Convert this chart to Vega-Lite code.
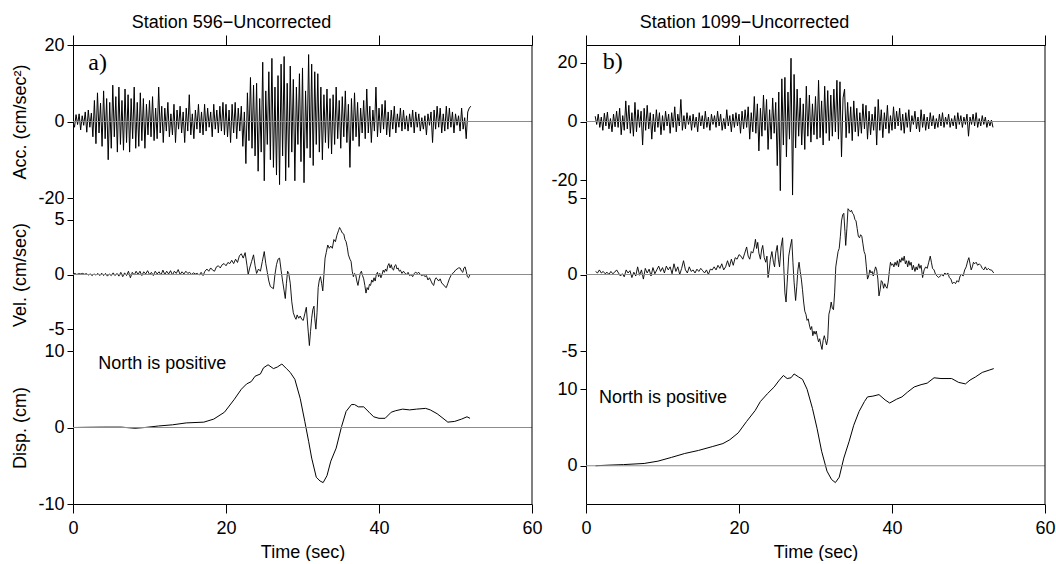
{
"$schema": "https://vega.github.io/schema/vega-lite/v6.json",
"padding": {"left": 11, "top": 13, "right": 0, "bottom": 0},
"background": "white",
"config": {
  "font": "Liberation Sans",
  "view": {"stroke": null},
  "axis": {"grid": false, "domainColor": "black", "tickColor": "black", "labelColor": "black", "titleColor": "black", "labelFont": "Liberation Sans", "titleFont": "Liberation Sans", "labelFontSize": 18, "titleFontSize": 18, "titleFontWeight": "normal", "tickSize": 6, "labelPadding": 3, "labelExpr": "replace(datum.label, '\u2212', '-')"}
},
"datasets": {
"acc596": [
{"t":0,"v":0},{"t":0.2,"v":-1.5},{"t":0.4,"v":1.8},{"t":0.6,"v":-0.8},{"t":0.8,"v":2.0},
{"t":1.0,"v":-2.2},{"t":1.2,"v":1.5},{"t":1.4,"v":-1.0},{"t":1.6,"v":2.5},{"t":1.8,"v":-2.8},
{"t":2.0,"v":3.0},{"t":2.2,"v":-1.5},{"t":2.4,"v":2.2},{"t":2.6,"v":-4.0},{"t":2.8,"v":5.5},
{"t":3.0,"v":-5.8},{"t":3.2,"v":7.5},{"t":3.4,"v":-3.0},{"t":3.6,"v":4.8},{"t":3.8,"v":-6.5},
{"t":4.0,"v":8.0},{"t":4.2,"v":-4.5},{"t":4.4,"v":6.0},{"t":4.6,"v":-10.0},{"t":4.8,"v":5.0},
{"t":5.0,"v":-7.0},{"t":5.2,"v":9.5},{"t":5.4,"v":-4.0},{"t":5.6,"v":6.5},{"t":5.8,"v":-8.0},
{"t":6.0,"v":9.0},{"t":6.2,"v":-6.0},{"t":6.4,"v":5.5},{"t":6.6,"v":-7.5},{"t":6.8,"v":8.5},
{"t":7.0,"v":-5.5},{"t":7.2,"v":7.0},{"t":7.4,"v":-8.0},{"t":7.6,"v":6.0},{"t":7.8,"v":-4.5},
{"t":8.0,"v":9.0},{"t":8.2,"v":-7.0},{"t":8.4,"v":5.0},{"t":8.6,"v":-6.5},{"t":8.8,"v":7.5},
{"t":9.0,"v":-5.0},{"t":9.2,"v":6.0},{"t":9.4,"v":-7.0},{"t":9.6,"v":4.5},{"t":9.8,"v":-3.5},
{"t":10.0,"v":5.5},{"t":10.2,"v":-4.0},{"t":10.4,"v":6.5},{"t":10.6,"v":-5.0},{"t":10.8,"v":3.5},
{"t":11.0,"v":-4.5},{"t":11.2,"v":9.0},{"t":11.4,"v":-3.0},{"t":11.6,"v":4.0},{"t":11.8,"v":-5.5},
{"t":12.0,"v":3.5},{"t":12.2,"v":-2.5},{"t":12.4,"v":5.0},{"t":12.6,"v":-4.0},{"t":12.8,"v":2.0},
{"t":13.0,"v":-3.5},{"t":13.2,"v":4.5},{"t":13.4,"v":-5.5},{"t":13.6,"v":3.0},{"t":13.8,"v":-2.0},
{"t":14.0,"v":4.0},{"t":14.2,"v":-3.0},{"t":14.4,"v":2.5},{"t":14.6,"v":-5.5},{"t":14.8,"v":3.5},
{"t":15.0,"v":-2.5},{"t":15.2,"v":7.0},{"t":15.4,"v":-3.5},{"t":15.6,"v":2.0},{"t":15.8,"v":-4.5},
{"t":16.0,"v":3.0},{"t":16.2,"v":-2.0},{"t":16.4,"v":4.5},{"t":16.6,"v":-3.0},{"t":16.8,"v":2.5},
{"t":17.0,"v":-3.5},{"t":17.2,"v":4.5},{"t":17.4,"v":-2.5},{"t":17.6,"v":3.5},{"t":17.8,"v":-1.5},
{"t":18.0,"v":2.5},{"t":18.2,"v":-4.0},{"t":18.4,"v":4.5},{"t":18.6,"v":-2.0},{"t":18.8,"v":3.0},
{"t":19.0,"v":-3.0},{"t":19.2,"v":4.0},{"t":19.4,"v":-2.5},{"t":19.6,"v":5.0},{"t":19.8,"v":-3.5},
{"t":20.0,"v":4.5},{"t":20.2,"v":-4.0},{"t":20.4,"v":3.0},{"t":20.6,"v":-5.5},{"t":20.8,"v":4.5},
{"t":21.0,"v":-3.0},{"t":21.2,"v":5.0},{"t":21.4,"v":-4.5},{"t":21.6,"v":3.5},{"t":21.8,"v":-2.5},
{"t":22.0,"v":4.0},{"t":22.2,"v":-6.5},{"t":22.4,"v":2.5},{"t":22.6,"v":-11.0},{"t":22.8,"v":7.5},
{"t":23.0,"v":-5.0},{"t":23.2,"v":11.5},{"t":23.4,"v":-7.0},{"t":23.6,"v":9.5},{"t":23.8,"v":-9.0},
{"t":24.0,"v":10.0},{"t":24.2,"v":-13.0},{"t":24.4,"v":6.0},{"t":24.6,"v":-8.0},{"t":24.8,"v":15.5},
{"t":25.0,"v":-15.5},{"t":25.2,"v":8.0},{"t":25.4,"v":-6.0},{"t":25.6,"v":13.0},{"t":25.8,"v":-10.0},
{"t":26.0,"v":16.5},{"t":26.2,"v":-12.0},{"t":26.4,"v":9.0},{"t":26.6,"v":-14.0},{"t":26.8,"v":12.0},
{"t":27.0,"v":-16.5},{"t":27.2,"v":15.0},{"t":27.4,"v":-9.0},{"t":27.6,"v":17.0},{"t":27.8,"v":-15.5},
{"t":28.0,"v":10.0},{"t":28.2,"v":-12.0},{"t":28.4,"v":14.5},{"t":28.6,"v":-8.0},{"t":28.8,"v":11.0},
{"t":29.0,"v":-15.5},{"t":29.2,"v":9.0},{"t":29.4,"v":-6.0},{"t":29.6,"v":12.5},{"t":29.8,"v":-10.5},
{"t":30.0,"v":14.0},{"t":30.2,"v":-16.0},{"t":30.4,"v":8.0},{"t":30.6,"v":-7.0},{"t":30.8,"v":17.5},
{"t":31.0,"v":-9.5},{"t":31.2,"v":15.0},{"t":31.4,"v":-11.5},{"t":31.6,"v":13.0},{"t":31.8,"v":-6.0},
{"t":32.0,"v":12.5},{"t":32.2,"v":-8.0},{"t":32.4,"v":9.0},{"t":32.6,"v":-10.0},{"t":32.8,"v":7.0},
{"t":33.0,"v":-5.5},{"t":33.2,"v":8.5},{"t":33.4,"v":-7.0},{"t":33.6,"v":6.0},{"t":33.8,"v":-8.5},
{"t":34.0,"v":7.0},{"t":34.2,"v":-6.0},{"t":34.4,"v":9.0},{"t":34.6,"v":-4.5},{"t":34.8,"v":5.5},
{"t":35.0,"v":-7.0},{"t":35.2,"v":6.5},{"t":35.4,"v":-4.0},{"t":35.6,"v":8.0},{"t":35.8,"v":-5.5},
{"t":36.0,"v":4.5},{"t":36.2,"v":-12.0},{"t":36.4,"v":6.0},{"t":36.6,"v":-5.0},{"t":36.8,"v":7.5},
{"t":37.0,"v":-4.0},{"t":37.2,"v":5.0},{"t":37.4,"v":-6.5},{"t":37.6,"v":3.5},{"t":37.8,"v":-3.0},
{"t":38.0,"v":5.5},{"t":38.2,"v":-4.5},{"t":38.4,"v":8.5},{"t":38.6,"v":-3.0},{"t":38.8,"v":4.0},
{"t":39.0,"v":-5.5},{"t":39.2,"v":3.0},{"t":39.4,"v":-2.5},{"t":39.6,"v":9.0},{"t":39.8,"v":-4.0},
{"t":40.0,"v":3.5},{"t":40.2,"v":-3.0},{"t":40.4,"v":4.5},{"t":40.6,"v":-2.0},{"t":40.8,"v":5.5},
{"t":41.0,"v":-3.5},{"t":41.2,"v":2.5},{"t":41.4,"v":-4.0},{"t":41.6,"v":3.0},{"t":41.8,"v":-2.0},
{"t":42.0,"v":4.0},{"t":42.2,"v":-3.0},{"t":42.4,"v":2.0},{"t":42.6,"v":-1.5},{"t":42.8,"v":3.5},
{"t":43.0,"v":-2.5},{"t":43.2,"v":3.0},{"t":43.4,"v":-2.0},{"t":43.6,"v":1.5},{"t":43.8,"v":-2.5},
{"t":44.0,"v":2.0},{"t":44.2,"v":-1.5},{"t":44.4,"v":3.0},{"t":44.6,"v":-3.0},{"t":44.8,"v":2.5},
{"t":45.0,"v":-1.5},{"t":45.2,"v":2.0},{"t":45.4,"v":-2.5},{"t":45.6,"v":1.0},{"t":45.8,"v":-2.0},
{"t":46.0,"v":1.5},{"t":46.2,"v":-3.5},{"t":46.4,"v":2.0},{"t":46.6,"v":-1.0},{"t":46.8,"v":2.5},
{"t":47.0,"v":-5.5},{"t":47.2,"v":3.0},{"t":47.4,"v":-2.0},{"t":47.6,"v":4.0},{"t":47.8,"v":-1.5},
{"t":48.0,"v":3.5},{"t":48.2,"v":-3.0},{"t":48.4,"v":2.0},{"t":48.6,"v":-2.5},{"t":48.8,"v":4.0},
{"t":49.0,"v":-2.0},{"t":49.2,"v":3.5},{"t":49.4,"v":-1.5},{"t":49.6,"v":2.5},{"t":49.8,"v":-3.0},
{"t":50.0,"v":2.0},{"t":50.2,"v":-1.0},{"t":50.4,"v":1.5},{"t":50.6,"v":-2.5},{"t":50.8,"v":3.5},
{"t":51.0,"v":-2.0},{"t":51.2,"v":1.0},{"t":51.4,"v":-4.5},{"t":51.6,"v":2.5},{"t":51.8,"v":3.5},
{"t":52.0,"v":4.0}
],
"acc1099": [
{"t":1.2,"v":1.8},{"t":1.4,"v":-1.0},{"t":1.6,"v":2.5},{"t":1.8,"v":-2.0},
{"t":2.0,"v":1.5},{"t":2.2,"v":-3.0},{"t":2.4,"v":2.8},{"t":2.6,"v":-1.5},{"t":2.8,"v":3.2},
{"t":3.0,"v":-2.5},{"t":3.2,"v":1.0},{"t":3.4,"v":-3.5},{"t":3.6,"v":2.5},{"t":3.8,"v":-1.8},
{"t":4.0,"v":3.5},{"t":4.2,"v":-2.0},{"t":4.4,"v":4.5},{"t":4.6,"v":-4.5},{"t":4.8,"v":2.0},
{"t":5.0,"v":-3.0},{"t":5.2,"v":7.0},{"t":5.4,"v":-2.5},{"t":5.6,"v":5.5},{"t":5.8,"v":-4.0},
{"t":6.0,"v":3.0},{"t":6.2,"v":-5.0},{"t":6.4,"v":6.5},{"t":6.6,"v":-3.5},{"t":6.8,"v":4.0},
{"t":7.0,"v":-2.0},{"t":7.2,"v":3.5},{"t":7.4,"v":-8.0},{"t":7.6,"v":4.5},{"t":7.8,"v":-3.0},
{"t":8.0,"v":5.5},{"t":8.2,"v":-2.5},{"t":8.4,"v":3.0},{"t":8.6,"v":-6.0},{"t":8.8,"v":2.5},
{"t":9.0,"v":-3.5},{"t":9.2,"v":4.0},{"t":9.4,"v":-2.0},{"t":9.6,"v":3.0},{"t":9.8,"v":-4.5},
{"t":10.0,"v":2.0},{"t":10.2,"v":-3.0},{"t":10.4,"v":3.5},{"t":10.6,"v":-1.5},{"t":10.8,"v":2.5},
{"t":11.0,"v":-4.0},{"t":11.2,"v":3.0},{"t":11.4,"v":-2.0},{"t":11.6,"v":5.0},{"t":11.8,"v":-3.5},
{"t":12.0,"v":2.5},{"t":12.2,"v":-1.5},{"t":12.4,"v":7.5},{"t":12.6,"v":-3.0},{"t":12.8,"v":2.0},
{"t":13.0,"v":-2.5},{"t":13.2,"v":3.0},{"t":13.4,"v":-1.0},{"t":13.6,"v":2.0},{"t":13.8,"v":-3.0},
{"t":14.0,"v":2.5},{"t":14.2,"v":-2.0},{"t":14.4,"v":1.5},{"t":14.6,"v":-3.5},{"t":14.8,"v":3.0},
{"t":15.0,"v":-1.5},{"t":15.2,"v":2.0},{"t":15.4,"v":-2.5},{"t":15.6,"v":3.5},{"t":15.8,"v":-2.0},
{"t":16.0,"v":1.5},{"t":16.2,"v":-3.0},{"t":16.4,"v":2.5},{"t":16.6,"v":-1.0},{"t":16.8,"v":2.0},
{"t":17.0,"v":-2.0},{"t":17.2,"v":3.5},{"t":17.4,"v":-1.5},{"t":17.6,"v":2.5},{"t":17.8,"v":-3.0},
{"t":18.0,"v":1.0},{"t":18.2,"v":-2.5},{"t":18.4,"v":4.0},{"t":18.6,"v":-1.5},{"t":18.8,"v":2.0},
{"t":19.0,"v":-3.5},{"t":19.2,"v":2.5},{"t":19.4,"v":-2.0},{"t":19.6,"v":3.0},{"t":19.8,"v":-1.5},
{"t":20.0,"v":2.5},{"t":20.2,"v":-4.0},{"t":20.4,"v":3.5},{"t":20.6,"v":-2.5},{"t":20.8,"v":4.0},
{"t":21.0,"v":-2.0},{"t":21.2,"v":5.0},{"t":21.4,"v":-6.0},{"t":21.6,"v":3.0},{"t":21.8,"v":-3.5},
{"t":22.0,"v":8.5},{"t":22.2,"v":-4.0},{"t":22.4,"v":6.0},{"t":22.6,"v":-10.0},{"t":22.8,"v":4.5},
{"t":23.0,"v":-5.0},{"t":23.2,"v":9.0},{"t":23.4,"v":-3.0},{"t":23.6,"v":7.5},{"t":23.8,"v":-9.5},
{"t":24.0,"v":4.0},{"t":24.2,"v":-6.0},{"t":24.4,"v":8.0},{"t":24.6,"v":-4.0},{"t":24.8,"v":6.5},
{"t":25.0,"v":-15.0},{"t":25.2,"v":10.0},{"t":25.4,"v":-23.5},{"t":25.6,"v":14.5},{"t":25.8,"v":-8.0},
{"t":26.0,"v":15.0},{"t":26.2,"v":-12.0},{"t":26.4,"v":10.0},{"t":26.6,"v":-6.0},{"t":26.8,"v":21.5},
{"t":27.0,"v":-25.0},{"t":27.2,"v":16.0},{"t":27.4,"v":-9.0},{"t":27.6,"v":11.0},{"t":27.8,"v":-5.0},
{"t":28.0,"v":8.0},{"t":28.2,"v":-8.0},{"t":28.4,"v":6.0},{"t":28.6,"v":-9.5},{"t":28.8,"v":12.0},
{"t":29.0,"v":-5.0},{"t":29.2,"v":9.0},{"t":29.4,"v":-7.0},{"t":29.6,"v":6.0},{"t":29.8,"v":-4.5},
{"t":30.0,"v":8.5},{"t":30.2,"v":-6.0},{"t":30.4,"v":14.0},{"t":30.6,"v":-5.5},{"t":30.8,"v":7.0},
{"t":31.0,"v":-8.0},{"t":31.2,"v":12.0},{"t":31.4,"v":-4.0},{"t":31.6,"v":10.5},{"t":31.8,"v":-6.5},
{"t":32.0,"v":9.0},{"t":32.2,"v":-5.0},{"t":32.4,"v":11.0},{"t":32.6,"v":-3.5},{"t":32.8,"v":14.0},
{"t":33.0,"v":-6.0},{"t":33.2,"v":13.5},{"t":33.4,"v":-12.0},{"t":33.6,"v":8.0},{"t":33.8,"v":11.0},
{"t":34.0,"v":-5.5},{"t":34.2,"v":6.5},{"t":34.4,"v":-4.0},{"t":34.6,"v":5.0},{"t":34.8,"v":-6.5},
{"t":35.0,"v":7.0},{"t":35.2,"v":-3.5},{"t":35.4,"v":4.5},{"t":35.6,"v":-5.0},{"t":35.8,"v":3.0},
{"t":36.0,"v":-4.0},{"t":36.2,"v":6.0},{"t":36.4,"v":-2.5},{"t":36.6,"v":5.5},{"t":36.8,"v":-6.0},
{"t":37.0,"v":3.5},{"t":37.2,"v":-4.5},{"t":37.4,"v":2.5},{"t":37.6,"v":-3.0},{"t":37.8,"v":5.0},
{"t":38.0,"v":-8.0},{"t":38.2,"v":7.5},{"t":38.4,"v":-3.0},{"t":38.6,"v":4.0},{"t":38.8,"v":-5.5},
{"t":39.0,"v":3.0},{"t":39.2,"v":-2.5},{"t":39.4,"v":5.5},{"t":39.6,"v":-4.0},{"t":39.8,"v":2.0},
{"t":40.0,"v":-3.0},{"t":40.2,"v":5.0},{"t":40.4,"v":-2.5},{"t":40.6,"v":3.5},{"t":40.8,"v":-1.5},
{"t":41.0,"v":4.5},{"t":41.2,"v":-3.0},{"t":41.4,"v":2.5},{"t":41.6,"v":-4.0},{"t":41.8,"v":3.0},
{"t":42.0,"v":-2.0},{"t":42.2,"v":4.0},{"t":42.4,"v":-3.5},{"t":42.6,"v":2.0},{"t":42.8,"v":-1.0},
{"t":43.0,"v":3.5},{"t":43.2,"v":-2.5},{"t":43.4,"v":1.5},{"t":43.6,"v":-3.5},{"t":43.8,"v":4.0},
{"t":44.0,"v":-2.0},{"t":44.2,"v":2.5},{"t":44.4,"v":-3.0},{"t":44.6,"v":1.5},{"t":44.8,"v":-2.5},
{"t":45.0,"v":3.0},{"t":45.2,"v":-1.5},{"t":45.4,"v":2.0},{"t":45.6,"v":-2.5},{"t":45.8,"v":1.0},
{"t":46.0,"v":-2.0},{"t":46.2,"v":2.5},{"t":46.4,"v":-1.5},{"t":46.6,"v":3.0},{"t":46.8,"v":-2.0},
{"t":47.0,"v":1.5},{"t":47.2,"v":-1.0},{"t":47.4,"v":2.5},{"t":47.6,"v":-2.0},{"t":47.8,"v":1.0},
{"t":48.0,"v":-1.5},{"t":48.2,"v":2.0},{"t":48.4,"v":-2.5},{"t":48.6,"v":3.0},{"t":48.8,"v":-1.0},
{"t":49.0,"v":2.0},{"t":49.2,"v":-2.0},{"t":49.4,"v":1.5},{"t":49.6,"v":-1.0},{"t":49.8,"v":2.5},
{"t":50.0,"v":-5.0},{"t":50.2,"v":1.5},{"t":50.4,"v":-1.0},{"t":50.6,"v":2.5},{"t":50.8,"v":-1.5},
{"t":51.0,"v":3.0},{"t":51.2,"v":-2.0},{"t":51.4,"v":1.0},{"t":51.6,"v":-1.5},{"t":51.8,"v":2.0},
{"t":52.0,"v":-1.0},{"t":52.2,"v":1.5},{"t":52.4,"v":-2.0},{"t":52.6,"v":0.5},{"t":52.8,"v":-1.5},
{"t":53.0,"v":0.5},{"t":53.2,"v":-2.0}
],
"vel596": [
{"t":0,"v":0.05},{"t":0.25,"v":0.1},{"t":0.5,"v":0.0},{"t":0.75,"v":0.08},{"t":1.0,"v":0.05},{"t":1.25,"v":0.1},{"t":1.5,"v":0.02},{"t":1.75,"v":0.08},
{"t":2.0,"v":-0.05},{"t":2.25,"v":0.05},{"t":2.5,"v":-0.1},{"t":2.75,"v":0.05},{"t":3.0,"v":-0.05},{"t":3.25,"v":0.1},{"t":3.5,"v":-0.1},{"t":3.75,"v":0.12},
{"t":4.0,"v":-0.1},{"t":4.25,"v":0.1},{"t":4.5,"v":-0.15},{"t":4.75,"v":0.05},{"t":5.0,"v":-0.1},{"t":5.25,"v":0.15},{"t":5.5,"v":-0.1},{"t":5.75,"v":0.1},
{"t":6.0,"v":-0.15},{"t":6.25,"v":0.2},{"t":6.5,"v":-0.2},{"t":6.75,"v":0.15},{"t":7.0,"v":-0.1},{"t":7.25,"v":0.3},{"t":7.5,"v":-0.3},{"t":7.75,"v":0.2},
{"t":8.0,"v":-0.05},{"t":8.25,"v":0.3},{"t":8.5,"v":0.0},{"t":8.75,"v":0.3},{"t":9.0,"v":-0.1},{"t":9.25,"v":0.25},{"t":9.5,"v":0.05},{"t":9.75,"v":0.35},
{"t":10.0,"v":0.0},{"t":10.25,"v":0.2},{"t":10.5,"v":-0.1},{"t":10.75,"v":0.3},{"t":11.0,"v":0.05},{"t":11.25,"v":0.25},{"t":11.5,"v":-0.05},{"t":11.75,"v":0.4},
{"t":12.0,"v":0.0},{"t":12.25,"v":0.3},{"t":12.5,"v":0.05},{"t":12.75,"v":0.35},{"t":13.0,"v":-0.05},{"t":13.25,"v":0.3},{"t":13.5,"v":0.1},{"t":13.75,"v":0.45},
{"t":14.0,"v":0.0},{"t":14.25,"v":0.25},{"t":14.5,"v":0.05},{"t":14.75,"v":0.3},{"t":15.0,"v":0.1},{"t":15.25,"v":0.2},{"t":15.5,"v":0.0},{"t":15.75,"v":0.15},
{"t":16.0,"v":0.05},{"t":16.25,"v":0.1},{"t":16.5,"v":-0.05},{"t":16.75,"v":0.2},{"t":17.0,"v":-0.1},{"t":17.25,"v":0.3},{"t":17.5,"v":0.5},{"t":17.75,"v":0.3},
{"t":18.0,"v":0.6},{"t":18.25,"v":0.4},{"t":18.5,"v":0.3},{"t":18.75,"v":0.7},{"t":19.0,"v":0.8},{"t":19.25,"v":0.6},{"t":19.5,"v":0.9},{"t":19.75,"v":1.0},
{"t":20.0,"v":0.8},{"t":20.25,"v":1.1},{"t":20.5,"v":1.0},{"t":20.75,"v":1.3},{"t":21.0,"v":1.0},{"t":21.25,"v":1.4},{"t":21.5,"v":1.1},{"t":21.75,"v":1.7},
{"t":22.0,"v":1.9},{"t":22.25,"v":1.5},{"t":22.5,"v":2.0},{"t":22.75,"v":0.8},{"t":22.9,"v":0.0},{"t":23.1,"v":0.6},{"t":23.35,"v":1.2},{"t":23.6,"v":1.8},
{"t":23.8,"v":0.8},{"t":24.0,"v":0.1},{"t":24.25,"v":0.5},{"t":24.5,"v":0.3},{"t":24.75,"v":1.2},{"t":25.0,"v":2.1},{"t":25.2,"v":1.0},{"t":25.4,"v":0.2},
{"t":25.6,"v":-0.6},{"t":25.8,"v":-1.1},{"t":26.0,"v":-1.2},{"t":26.2,"v":-1.3},{"t":26.4,"v":0.0},{"t":26.6,"v":0.9},{"t":26.8,"v":1.4},{"t":27.0,"v":1.5},
{"t":27.2,"v":0.4},{"t":27.4,"v":-0.6},{"t":27.6,"v":-1.5},{"t":27.75,"v":-2.2},{"t":27.9,"v":-0.8},{"t":28.05,"v":0.3},{"t":28.2,"v":0.1},{"t":28.4,"v":-0.8},
{"t":28.6,"v":-2.5},{"t":28.8,"v":-3.5},{"t":29.0,"v":-3.9},{"t":29.15,"v":-4.1},{"t":29.3,"v":-3.7},{"t":29.5,"v":-4.0},{"t":29.7,"v":-3.8},{"t":29.9,"v":-4.1},
{"t":30.1,"v":-4.2},{"t":30.3,"v":-3.6},{"t":30.5,"v":-3.0},{"t":30.7,"v":-4.8},{"t":30.9,"v":-6.5},{"t":31.05,"v":-5.2},{"t":31.2,"v":-4.0},{"t":31.35,"v":-3.2},
{"t":31.5,"v":-2.9},{"t":31.6,"v":-4.0},{"t":31.75,"v":-5.0},{"t":31.9,"v":-3.5},{"t":32.05,"v":-1.2},{"t":32.2,"v":-0.5},{"t":32.35,"v":-0.2},{"t":32.5,"v":-0.8},
{"t":32.65,"v":-1.5},{"t":32.8,"v":0.0},{"t":32.95,"v":1.5},{"t":33.1,"v":2.0},{"t":33.3,"v":2.7},{"t":33.5,"v":2.4},{"t":33.7,"v":2.6},{"t":33.9,"v":2.4},
{"t":34.1,"v":3.2},{"t":34.3,"v":3.0},{"t":34.5,"v":3.6},{"t":34.7,"v":4.0},{"t":34.85,"v":4.3},{"t":35.0,"v":4.1},{"t":35.2,"v":3.8},{"t":35.4,"v":3.7},
{"t":35.55,"v":3.2},{"t":35.7,"v":3.0},{"t":35.85,"v":2.5},{"t":36.0,"v":1.8},{"t":36.2,"v":1.4},{"t":36.35,"v":1.2},{"t":36.5,"v":0.3},{"t":36.65,"v":-0.2},
{"t":36.8,"v":0.1},{"t":36.95,"v":0.0},{"t":37.1,"v":-0.6},{"t":37.25,"v":-1.0},{"t":37.4,"v":-0.4},{"t":37.55,"v":0.1},{"t":37.7,"v":0.3},{"t":37.85,"v":-0.1},
{"t":38.0,"v":-0.4},{"t":38.15,"v":-1.0},{"t":38.3,"v":-1.7},{"t":38.45,"v":-1.2},{"t":38.6,"v":-1.4},{"t":38.75,"v":-0.9},{"t":38.9,"v":-1.0},{"t":39.05,"v":-0.5},
{"t":39.2,"v":-0.7},{"t":39.35,"v":-0.3},{"t":39.5,"v":-0.6},{"t":39.65,"v":0.0},{"t":39.8,"v":0.2},{"t":39.95,"v":-0.2},{"t":40.1,"v":0.1},{"t":40.25,"v":-0.3},
{"t":40.4,"v":0.0},{"t":40.55,"v":0.4},{"t":40.7,"v":0.2},{"t":40.85,"v":0.5},{"t":41.0,"v":0.3},{"t":41.15,"v":0.8},{"t":41.3,"v":1.0},{"t":41.45,"v":0.6},
{"t":41.6,"v":0.9},{"t":41.75,"v":0.5},{"t":41.9,"v":0.4},{"t":42.05,"v":0.8},{"t":42.2,"v":0.9},{"t":42.35,"v":0.5},{"t":42.5,"v":0.6},{"t":42.65,"v":0.3},
{"t":42.8,"v":0.4},{"t":43.0,"v":0.1},{"t":43.2,"v":0.3},{"t":43.4,"v":0.1},{"t":43.6,"v":0.0},{"t":43.8,"v":0.2},{"t":44.0,"v":-0.1},{"t":44.2,"v":0.0},
{"t":44.4,"v":-0.2},{"t":44.6,"v":0.1},{"t":44.8,"v":0.2},{"t":45.0,"v":0.1},{"t":45.2,"v":0.2},{"t":45.4,"v":0.0},{"t":45.6,"v":-0.1},{"t":45.8,"v":0.0},
{"t":46.0,"v":-0.2},{"t":46.2,"v":-0.1},{"t":46.4,"v":-0.5},{"t":46.6,"v":-0.3},{"t":46.8,"v":-0.6},{"t":47.0,"v":-0.9},{"t":47.15,"v":-1.0},{"t":47.3,"v":-0.5},
{"t":47.45,"v":-0.3},{"t":47.6,"v":-0.4},{"t":47.8,"v":-0.6},{"t":48.0,"v":-0.4},{"t":48.2,"v":-0.8},{"t":48.4,"v":-0.9},{"t":48.6,"v":-1.1},{"t":48.8,"v":-1.2},
{"t":49.0,"v":-0.8},{"t":49.2,"v":-0.4},{"t":49.4,"v":-0.1},{"t":49.6,"v":0.1},{"t":49.8,"v":0.2},{"t":50.0,"v":0.4},{"t":50.2,"v":0.5},{"t":50.4,"v":0.6},
{"t":50.6,"v":0.6},{"t":50.8,"v":0.3},{"t":50.95,"v":0.2},{"t":51.1,"v":0.6},{"t":51.25,"v":0.7},{"t":51.4,"v":0.3},{"t":51.55,"v":-0.2},{"t":51.7,"v":-0.3},
{"t":51.9,"v":0.0}
],
"vel1099": [
{"t":1.25,"v":0.2},{"t":1.5,"v":0.1},{"t":1.75,"v":0.3},{"t":2.0,"v":0.1},{"t":2.25,"v":0.2},{"t":2.5,"v":0.05},{"t":2.75,"v":0.15},{"t":3.0,"v":0.0},
{"t":3.25,"v":0.2},{"t":3.5,"v":0.05},{"t":3.75,"v":0.15},{"t":4.0,"v":0.3},{"t":4.25,"v":0.1},{"t":4.5,"v":-0.1},{"t":4.75,"v":0.05},{"t":5.0,"v":-0.15},
{"t":5.25,"v":0.3},{"t":5.5,"v":0.1},{"t":5.75,"v":0.25},{"t":6.0,"v":-0.2},{"t":6.25,"v":0.15},{"t":6.5,"v":-0.1},{"t":6.75,"v":0.5},{"t":7.0,"v":-0.05},
{"t":7.25,"v":0.3},{"t":7.5,"v":-0.3},{"t":7.75,"v":0.4},{"t":8.0,"v":0.1},{"t":8.25,"v":0.35},{"t":8.5,"v":-0.1},{"t":8.75,"v":0.45},{"t":9.0,"v":0.05},
{"t":9.25,"v":0.3},{"t":9.5,"v":0.55},{"t":9.75,"v":0.2},{"t":10.0,"v":0.45},{"t":10.25,"v":0.1},{"t":10.5,"v":0.55},{"t":10.75,"v":0.3},{"t":11.0,"v":0.5},
{"t":11.25,"v":0.05},{"t":11.5,"v":0.7},{"t":11.75,"v":0.2},{"t":12.0,"v":0.5},{"t":12.25,"v":0.0},{"t":12.5,"v":0.4},{"t":12.75,"v":0.9},{"t":13.0,"v":0.3},
{"t":13.25,"v":0.1},{"t":13.5,"v":0.5},{"t":13.75,"v":0.2},{"t":14.0,"v":0.3},{"t":14.25,"v":0.1},{"t":14.5,"v":0.35},{"t":14.75,"v":0.2},{"t":15.0,"v":0.4},
{"t":15.25,"v":0.25},{"t":15.5,"v":0.1},{"t":15.75,"v":0.3},{"t":16.0,"v":0.0},{"t":16.25,"v":0.35},{"t":16.5,"v":0.3},{"t":16.75,"v":0.5},{"t":17.0,"v":0.3},
{"t":17.25,"v":0.6},{"t":17.5,"v":0.4},{"t":17.75,"v":0.7},{"t":18.0,"v":0.3},{"t":18.25,"v":0.5},{"t":18.5,"v":0.9},{"t":18.75,"v":0.5},{"t":19.0,"v":1.0},
{"t":19.25,"v":0.6},{"t":19.5,"v":1.1},{"t":19.75,"v":1.0},{"t":20.0,"v":1.3},{"t":20.25,"v":1.2},{"t":20.5,"v":1.0},{"t":20.75,"v":1.4},{"t":21.0,"v":1.8},
{"t":21.2,"v":1.2},{"t":21.4,"v":1.0},{"t":21.6,"v":1.5},{"t":21.8,"v":1.4},{"t":22.0,"v":1.8},{"t":22.15,"v":2.3},{"t":22.3,"v":1.7},{"t":22.45,"v":2.1},
{"t":22.6,"v":1.4},{"t":22.8,"v":1.0},{"t":22.95,"v":1.6},{"t":23.1,"v":1.9},{"t":23.3,"v":1.1},{"t":23.5,"v":0.8},{"t":23.65,"v":1.2},{"t":23.8,"v":-0.2},
{"t":23.95,"v":0.3},{"t":24.1,"v":1.0},{"t":24.3,"v":1.5},{"t":24.5,"v":0.8},{"t":24.65,"v":0.5},{"t":24.8,"v":1.4},{"t":25.0,"v":1.9},{"t":25.15,"v":1.0},
{"t":25.3,"v":0.5},{"t":25.5,"v":1.8},{"t":25.7,"v":2.4},{"t":25.85,"v":0.5},{"t":26.0,"v":-1.2},{"t":26.15,"v":-1.8},{"t":26.3,"v":-0.5},{"t":26.5,"v":1.2},
{"t":26.7,"v":1.8},{"t":26.9,"v":2.3},{"t":27.05,"v":0.8},{"t":27.2,"v":-0.5},{"t":27.4,"v":-1.7},{"t":27.55,"v":-0.8},{"t":27.7,"v":0.3},{"t":27.85,"v":0.8},
{"t":28.0,"v":0.2},{"t":28.15,"v":-0.3},{"t":28.3,"v":-1.0},{"t":28.45,"v":-1.8},{"t":28.6,"v":-2.4},{"t":28.75,"v":-2.6},{"t":28.9,"v":-3.0},{"t":29.05,"v":-2.9},
{"t":29.2,"v":-3.3},{"t":29.35,"v":-3.6},{"t":29.5,"v":-3.4},{"t":29.65,"v":-4.0},{"t":29.8,"v":-3.7},{"t":29.95,"v":-3.9},{"t":30.1,"v":-3.7},{"t":30.25,"v":-4.1},
{"t":30.4,"v":-4.4},{"t":30.55,"v":-4.2},{"t":30.7,"v":-4.6},{"t":30.85,"v":-4.9},{"t":31.0,"v":-4.3},{"t":31.15,"v":-4.0},{"t":31.3,"v":-4.3},{"t":31.45,"v":-4.6},
{"t":31.6,"v":-4.2},{"t":31.75,"v":-2.6},{"t":31.9,"v":-2.3},{"t":32.05,"v":-1.8},{"t":32.2,"v":-2.2},{"t":32.35,"v":-2.3},{"t":32.5,"v":-1.2},{"t":32.65,"v":0.5},
{"t":32.8,"v":1.0},{"t":32.95,"v":1.5},{"t":33.1,"v":1.7},{"t":33.25,"v":2.5},{"t":33.4,"v":3.5},{"t":33.55,"v":3.9},{"t":33.7,"v":4.0},{"t":33.85,"v":2.8},
{"t":33.95,"v":1.9},{"t":34.1,"v":3.0},{"t":34.25,"v":4.3},{"t":34.4,"v":4.2},{"t":34.55,"v":4.1},{"t":34.7,"v":4.2},{"t":34.85,"v":4.0},{"t":35.0,"v":3.9},
{"t":35.15,"v":3.6},{"t":35.3,"v":3.5},{"t":35.45,"v":3.0},{"t":35.6,"v":2.5},{"t":35.75,"v":2.4},{"t":35.9,"v":2.6},{"t":36.05,"v":2.5},{"t":36.2,"v":2.0},
{"t":36.35,"v":1.5},{"t":36.5,"v":1.3},{"t":36.65,"v":0.5},{"t":36.8,"v":-0.3},{"t":36.95,"v":-0.1},{"t":37.1,"v":0.3},{"t":37.25,"v":0.1},{"t":37.4,"v":0.2},
{"t":37.55,"v":-0.1},{"t":37.7,"v":0.2},{"t":37.85,"v":0.5},{"t":38.0,"v":0.3},{"t":38.15,"v":-0.3},{"t":38.3,"v":-1.4},{"t":38.45,"v":-1.0},{"t":38.6,"v":-0.4},
{"t":38.75,"v":-0.5},{"t":38.9,"v":-0.9},{"t":39.05,"v":-0.6},{"t":39.2,"v":-0.8},{"t":39.35,"v":-0.9},{"t":39.5,"v":-0.5},{"t":39.65,"v":0.2},{"t":39.8,"v":0.8},
{"t":39.95,"v":0.6},{"t":40.1,"v":0.7},{"t":40.25,"v":0.5},{"t":40.4,"v":0.8},{"t":40.55,"v":0.6},{"t":40.7,"v":0.9},{"t":40.85,"v":0.5},{"t":41.0,"v":1.0},
{"t":41.15,"v":0.8},{"t":41.3,"v":1.1},{"t":41.45,"v":0.9},{"t":41.6,"v":1.2},{"t":41.75,"v":0.7},{"t":41.9,"v":0.9},{"t":42.05,"v":0.5},{"t":42.2,"v":0.9},
{"t":42.35,"v":0.6},{"t":42.5,"v":0.8},{"t":42.65,"v":0.3},{"t":42.8,"v":0.6},{"t":43.0,"v":0.2},{"t":43.15,"v":0.5},{"t":43.3,"v":0.3},{"t":43.5,"v":0.7},
{"t":43.65,"v":0.4},{"t":43.8,"v":0.6},{"t":44.0,"v":-0.2},{"t":44.2,"v":0.3},{"t":44.4,"v":0.5},{"t":44.6,"v":0.4},{"t":44.8,"v":0.8},{"t":45.0,"v":1.2},
{"t":45.15,"v":0.8},{"t":45.3,"v":0.4},{"t":45.5,"v":0.3},{"t":45.7,"v":0.0},{"t":45.9,"v":-0.1},{"t":46.1,"v":-0.2},{"t":46.3,"v":-0.1},{"t":46.5,"v":0.0},
{"t":46.7,"v":-0.1},{"t":46.9,"v":0.1},{"t":47.1,"v":0.0},{"t":47.3,"v":0.1},{"t":47.5,"v":-0.2},{"t":47.7,"v":-0.3},{"t":47.9,"v":-0.6},{"t":48.1,"v":-0.5},
{"t":48.3,"v":-0.6},{"t":48.5,"v":-0.4},{"t":48.7,"v":-0.5},{"t":48.9,"v":-0.1},{"t":49.1,"v":0.0},{"t":49.3,"v":-0.1},{"t":49.5,"v":0.3},{"t":49.7,"v":0.5},
{"t":49.9,"v":0.9},{"t":50.05,"v":1.1},{"t":50.2,"v":0.7},{"t":50.35,"v":0.3},{"t":50.5,"v":0.5},{"t":50.65,"v":0.8},{"t":50.8,"v":0.7},{"t":51.0,"v":0.8},
{"t":51.2,"v":0.6},{"t":51.4,"v":0.7},{"t":51.6,"v":0.6},{"t":51.8,"v":0.4},{"t":52.0,"v":0.3},{"t":52.2,"v":0.5},{"t":52.4,"v":0.3},{"t":52.6,"v":0.4},
{"t":52.8,"v":0.3},{"t":53.0,"v":0.3},{"t":53.3,"v":0.1}
],
"disp596": [
{"t":0,"v":0},{"t":2,"v":0.03},{"t":4,"v":0.05},{"t":6.3,"v":0.05},{"t":8.1,"v":-0.1},{"t":9.4,"v":0.0},{"t":11.2,"v":0.2},{"t":13,"v":0.35},
{"t":14.8,"v":0.6},{"t":17.1,"v":0.7},{"t":18.4,"v":1.1},{"t":19.8,"v":2.0},{"t":21.1,"v":3.7},{"t":22,"v":5.0},{"t":22.7,"v":5.7},{"t":23.3,"v":6.0},
{"t":23.8,"v":6.7},{"t":24.5,"v":7.0},{"t":24.9,"v":7.8},{"t":25.5,"v":8.2},{"t":26.2,"v":7.7},{"t":26.7,"v":7.9},{"t":27.3,"v":8.3},{"t":27.9,"v":7.7},
{"t":28.4,"v":7.2},{"t":29,"v":6.3},{"t":29.7,"v":3.8},{"t":30.3,"v":0.8},{"t":30.8,"v":-1.8},{"t":31.2,"v":-4.0},{"t":31.8,"v":-6.5},{"t":32.3,"v":-7.0},
{"t":32.7,"v":-7.2},{"t":33.2,"v":-6.3},{"t":33.7,"v":-4.4},{"t":34.4,"v":-2.7},{"t":35.1,"v":0.1},{"t":35.7,"v":2.1},{"t":36.4,"v":3.0},{"t":36.8,"v":3.0},
{"t":37.3,"v":2.7},{"t":38,"v":2.7},{"t":38.7,"v":2.0},{"t":39.3,"v":1.4},{"t":40,"v":1.2},{"t":40.8,"v":1.2},{"t":41.6,"v":2.0},{"t":42.2,"v":2.2},
{"t":43.1,"v":2.4},{"t":44,"v":2.3},{"t":44.9,"v":2.4},{"t":46.1,"v":2.5},{"t":46.7,"v":2.3},{"t":47.6,"v":1.8},{"t":48.5,"v":1.1},{"t":49,"v":0.7},
{"t":49.9,"v":0.8},{"t":50.8,"v":1.1},{"t":51.5,"v":1.4},{"t":51.9,"v":1.2}
],
"disp1099": [
{"t":1.25,"v":0},{"t":3,"v":0.08},{"t":4.9,"v":0.15},{"t":7.6,"v":0.3},{"t":9.4,"v":0.6},{"t":11.2,"v":1.1},{"t":12.9,"v":1.6},{"t":14.7,"v":2.0},
{"t":16.5,"v":2.5},{"t":17.9,"v":2.9},{"t":18.8,"v":3.4},{"t":19.9,"v":4.3},{"t":21,"v":5.8},{"t":22.1,"v":7.2},{"t":22.8,"v":8.4},{"t":23.7,"v":9.4},
{"t":24.6,"v":10.3},{"t":25.2,"v":11.1},{"t":25.8,"v":11.8},{"t":26.3,"v":11.4},{"t":26.8,"v":11.5},{"t":27.2,"v":12.0},{"t":27.8,"v":11.6},{"t":28.3,"v":11.3},
{"t":28.9,"v":10.0},{"t":29.6,"v":7.5},{"t":30.2,"v":4.9},{"t":30.8,"v":1.9},{"t":31.5,"v":-0.7},{"t":32.1,"v":-1.8},{"t":32.6,"v":-2.2},{"t":33.1,"v":-1.5},
{"t":33.7,"v":1.0},{"t":34.4,"v":3.2},{"t":35,"v":5.3},{"t":35.7,"v":7.1},{"t":36.4,"v":8.4},{"t":36.8,"v":9.0},{"t":37.5,"v":9.1},{"t":38.3,"v":9.3},
{"t":39.1,"v":8.6},{"t":39.7,"v":8.2},{"t":40.6,"v":8.7},{"t":41.3,"v":9.0},{"t":42,"v":9.6},{"t":42.9,"v":10.3},{"t":43.8,"v":10.6},{"t":44.6,"v":10.8},
{"t":45.5,"v":11.5},{"t":46.4,"v":11.4},{"t":47.8,"v":11.4},{"t":48.7,"v":10.9},{"t":49.6,"v":10.7},{"t":50.2,"v":11.2},{"t":50.9,"v":11.6},{"t":51.8,"v":12.2},
{"t":52.7,"v":12.5},{"t":53.3,"v":12.7}
]
},
"columns": 2,
"bounds": "flush",
"spacing": {"row": 0, "column": 54},
"concat": [
  {"width": 459, "height": 153,
   "title": {"text": "Station 596\u2212Uncorrected", "fontSize": 18, "fontWeight": "normal", "font": "Liberation Sans", "color": "black", "anchor": "middle", "frame": "group", "dx": -71, "offset": 3},
   "layer": [
   {"data": {"name": "acc596"}, "mark": {"type": "line", "color": "black", "strokeWidth": 1, "clip": true},
    "encoding": {
     "x": {"field": "t", "type": "quantitative", "scale": {"domain": [0, 60], "nice": false, "zero": false}, "axis": {"orient": "top", "values": [0, 20, 40, 60], "labels": false, "title": null, "tickSize": 10}},
     "y": {"field": "v", "type": "quantitative", "scale": {"domain": [-20, 20], "nice": false}, "axis": {"values": [-20, 0, 20], "title": "Acc. (cm/sec\u00b2)", "titleX": -44, "titleY": 76.5, "titleAngle": 270, "titleBaseline": "bottom", "titleAlign": "center"}}}},
   {"data": {"values": [{}]}, "mark": {"type": "rule", "color": "#8c8c8c", "strokeWidth": 1}, "encoding": {"y": {"datum": 0, "type": "quantitative"}}},
   {"data": {"values": [{}]}, "mark": {"type": "rule", "color": "black", "strokeWidth": 1}, "encoding": {"x": {"datum": 60, "type": "quantitative"}}},
   {"data": {"values": [{}]}, "mark": {"type": "text", "font": "Liberation Serif", "fontSize": 24, "align": "left", "baseline": "middle", "color": "black"}, "encoding": {"x": {"datum": 2.0, "type": "quantitative"}, "y": {"datum": 15.3, "type": "quantitative"}, "text": {"value": "a)"}}}
  ]},
  {"width": 459, "height": 153,
   "title": {"text": "Station 1099\u2212Uncorrected", "fontSize": 18, "fontWeight": "normal", "font": "Liberation Sans", "color": "black", "anchor": "middle", "frame": "group", "dx": -71, "offset": 3},
   "layer": [
   {"data": {"name": "acc1099"}, "mark": {"type": "line", "color": "black", "strokeWidth": 1, "clip": true},
    "encoding": {
     "x": {"field": "t", "type": "quantitative", "scale": {"domain": [0, 60], "nice": false, "zero": false}, "axis": {"orient": "top", "values": [0, 20, 40, 60], "labels": false, "title": null, "tickSize": 10}},
     "y": {"field": "v", "type": "quantitative", "scale": {"domain": [-26, 26], "nice": false}, "axis": {"values": [-20, 0, 20], "title": null}}}},
   {"data": {"values": [{}]}, "mark": {"type": "rule", "color": "#8c8c8c", "strokeWidth": 1}, "encoding": {"y": {"datum": 0, "type": "quantitative"}}},
   {"data": {"values": [{}]}, "mark": {"type": "rule", "color": "black", "strokeWidth": 1}, "encoding": {"x": {"datum": 60, "type": "quantitative"}}},
   {"data": {"values": [{}]}, "mark": {"type": "text", "font": "Liberation Serif", "fontSize": 24, "align": "left", "baseline": "middle", "color": "black"}, "encoding": {"x": {"datum": 2.2, "type": "quantitative"}, "y": {"datum": 20.3, "type": "quantitative"}, "text": {"value": "b)"}}}
  ]},
  {"width": 459, "height": 153, "layer": [
   {"data": {"name": "vel596"}, "mark": {"type": "line", "color": "black", "strokeWidth": 0.9, "clip": true},
    "encoding": {
     "x": {"field": "t", "type": "quantitative", "scale": {"domain": [0, 60], "nice": false, "zero": false}, "axis": null},
     "y": {"field": "v", "type": "quantitative", "scale": {"domain": [-7, 7], "nice": false}, "axis": {"values": [-5, 0, 5], "title": "Vel. (cm/sec)", "titleX": -44, "titleY": 76.5, "titleAngle": 270, "titleBaseline": "bottom", "titleAlign": "center"}}}},
   {"data": {"values": [{}]}, "mark": {"type": "rule", "color": "#8c8c8c", "strokeWidth": 1}, "encoding": {"y": {"datum": 0, "type": "quantitative"}}},
   {"data": {"values": [{}]}, "mark": {"type": "rule", "color": "black", "strokeWidth": 1}, "encoding": {"x": {"datum": 60, "type": "quantitative"}}}
  ]},
  {"width": 459, "height": 153, "layer": [
   {"data": {"name": "vel1099"}, "mark": {"type": "line", "color": "black", "strokeWidth": 0.9, "clip": true},
    "encoding": {
     "x": {"field": "t", "type": "quantitative", "scale": {"domain": [0, 60], "nice": false, "zero": false}, "axis": null},
     "y": {"field": "v", "type": "quantitative", "scale": {"domain": [-5, 5], "nice": false}, "axis": {"values": [-5, 0, 5], "title": null}}}},
   {"data": {"values": [{}]}, "mark": {"type": "rule", "color": "#8c8c8c", "strokeWidth": 1}, "encoding": {"y": {"datum": 0, "type": "quantitative"}}},
   {"data": {"values": [{}]}, "mark": {"type": "rule", "color": "black", "strokeWidth": 1}, "encoding": {"x": {"datum": 60, "type": "quantitative"}}}
  ]},
  {"width": 459, "height": 153, "layer": [
   {"data": {"name": "disp596"}, "mark": {"type": "line", "color": "black", "strokeWidth": 1, "clip": true},
    "encoding": {
     "x": {"field": "t", "type": "quantitative", "scale": {"domain": [0, 60], "nice": false, "zero": false}, "axis": {"orient": "bottom", "values": [0, 20, 40, 60], "title": "Time (sec)", "tickSize": 9, "labelPadding": 6, "titlePadding": 6, "labelFlush": false}},
     "y": {"field": "v", "type": "quantitative", "scale": {"domain": [-10, 10], "nice": false}, "axis": {"values": [-10, 0, 10], "title": "Disp. (cm)", "titleX": -44, "titleY": 76.5, "titleAngle": 270, "titleBaseline": "bottom", "titleAlign": "center"}}}},
   {"data": {"values": [{}]}, "mark": {"type": "rule", "color": "#8c8c8c", "strokeWidth": 1}, "encoding": {"y": {"datum": 0, "type": "quantitative"}}},
   {"data": {"values": [{}]}, "mark": {"type": "rule", "color": "black", "strokeWidth": 1}, "encoding": {"x": {"datum": 60, "type": "quantitative"}}},
   {"data": {"values": [{}]}, "mark": {"type": "text", "font": "Liberation Sans", "fontSize": 18, "align": "left", "baseline": "middle", "color": "black"}, "encoding": {"x": {"datum": 3.3, "type": "quantitative"}, "y": {"datum": 8.3, "type": "quantitative"}, "text": {"value": "North is positive"}}}
  ]},
  {"width": 459, "height": 153, "layer": [
   {"data": {"name": "disp1099"}, "mark": {"type": "line", "color": "black", "strokeWidth": 1, "clip": true},
    "encoding": {
     "x": {"field": "t", "type": "quantitative", "scale": {"domain": [0, 60], "nice": false, "zero": false}, "axis": {"orient": "bottom", "values": [0, 20, 40, 60], "title": "Time (sec)", "tickSize": 9, "labelPadding": 6, "titlePadding": 6, "labelFlush": false}},
     "y": {"field": "v", "type": "quantitative", "scale": {"domain": [-5, 15], "nice": false}, "axis": {"values": [0, 10], "title": null}}}},
   {"data": {"values": [{}]}, "mark": {"type": "rule", "color": "#8c8c8c", "strokeWidth": 1}, "encoding": {"y": {"datum": 0, "type": "quantitative"}}},
   {"data": {"values": [{}]}, "mark": {"type": "rule", "color": "black", "strokeWidth": 1}, "encoding": {"x": {"datum": 60, "type": "quantitative"}}},
   {"data": {"values": [{}]}, "mark": {"type": "text", "font": "Liberation Sans", "fontSize": 18, "align": "left", "baseline": "middle", "color": "black"}, "encoding": {"x": {"datum": 1.7, "type": "quantitative"}, "y": {"datum": 8.9, "type": "quantitative"}, "text": {"value": "North is positive"}}}
  ]}
]
}
